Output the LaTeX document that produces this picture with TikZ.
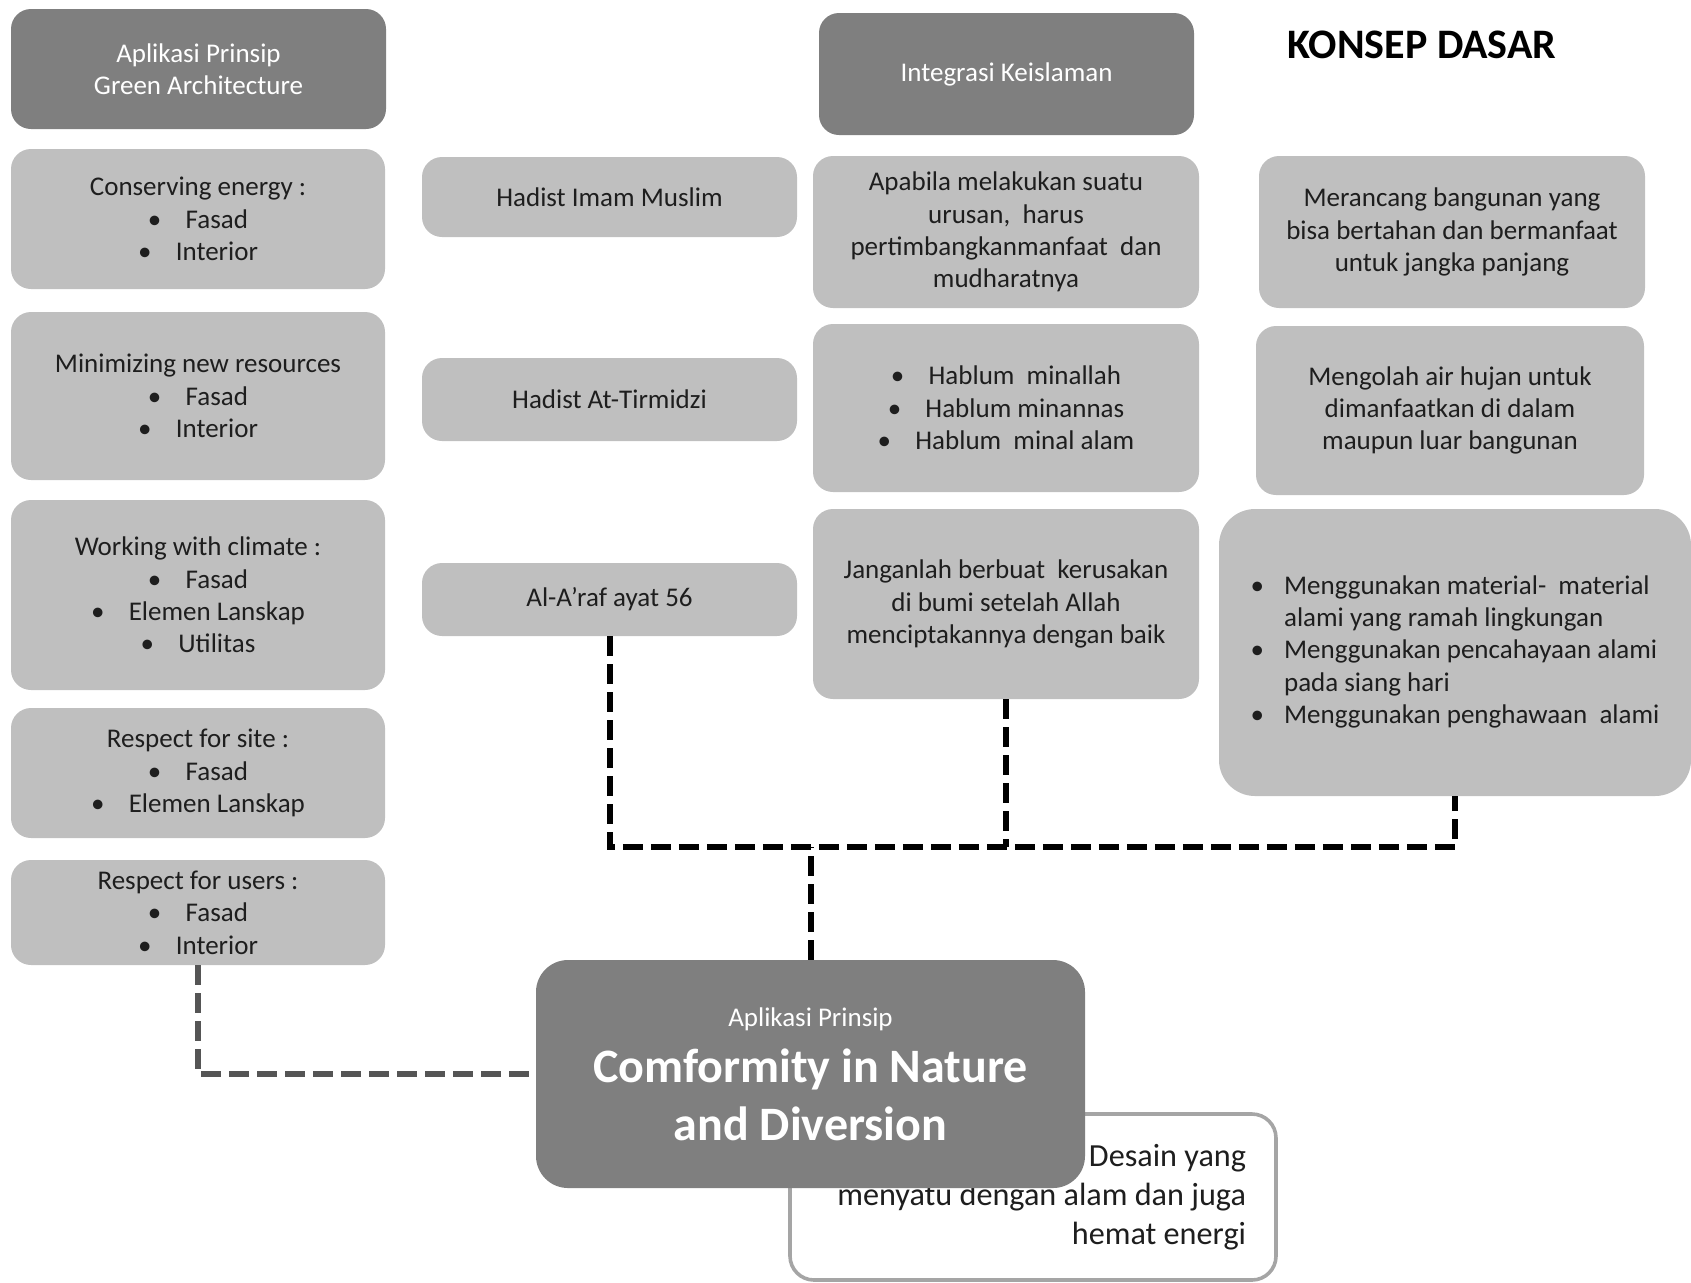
\documentclass[tikz,border=0pt]{standalone}
\usepackage{fontspec}
\setmainfont{Carlito}
\usetikzlibrary{positioning}
\definecolor{headgray}{RGB}{127,127,127}
\definecolor{boxgray}{RGB}{191,191,191}
\definecolor{inkgray}{RGB}{30,30,30}
\definecolor{linegray}{RGB}{85,85,85}
\definecolor{framegray}{RGB}{165,165,165}
\newcommand{\itm}{\textbullet\hspace{0.9em}}

\begin{document}
\begin{tikzpicture}[x=0.5pt, y=-0.5pt,
    headbox/.style={fill=headgray, rounded corners=10pt, text=white, align=center,
      font=\fontsize{13.5}{16.2}\selectfont, inner sep=0pt},
    infobox/.style={fill=boxgray, rounded corners=10pt, text=inkgray, align=center,
      font=\fontsize{13.5}{16.2}\selectfont, inner sep=0pt},
    link/.style={line width=3pt, dash pattern=on 10pt off 4pt},
  ]
    \useasboundingbox (0,0) rectangle (1691,1282);

    % kolom kiri: green architecture
    \node[headbox, minimum width=187.5pt, minimum height=60pt] (ga) at (198.5,69)
      {Aplikasi Prinsip\\Green Architecture};
    \node[infobox, minimum width=187pt, minimum height=70pt] (cons) at (198,219)
      {Conserving energy :\\\itm Fasad\\\itm Interior};
    \node[infobox, minimum width=187pt, minimum height=84pt] (mini) at (198,396)
      {Minimizing new resources\\\itm Fasad\\\itm Interior};
    \node[infobox, minimum width=187pt, minimum height=95pt] (work) at (198,595)
      {Working with climate :\\\itm Fasad\\\itm Elemen Lanskap\\\itm Utilitas};
    \node[infobox, minimum width=187pt, minimum height=65pt] (site) at (198,773)
      {Respect for site :\\\itm Fasad\\\itm Elemen Lanskap};
    \node[infobox, minimum width=187pt, minimum height=52.5pt] (users) at (198,912.5)
      {Respect for users :\\\itm Fasad\\\itm Interior};

    % kolom tengah: dalil
    \node[infobox, minimum width=187.5pt, minimum height=40pt] (him) at (609.5,197)
      {Hadist Imam Muslim};
    \node[infobox, minimum width=187.5pt, minimum height=41.5pt] (tir) at (609.5,399.5)
      {Hadist At-Tirmidzi};
    \node[infobox, minimum width=187.5pt, minimum height=36.5pt] (araf) at (609.5,599.5)
      {Al-A’raf ayat 56};

    % integrasi keislaman
    \node[headbox, minimum width=187.5pt, minimum height=61pt] (integ) at (1006.5,74)
      {Integrasi Keislaman};
    \node[infobox, minimum width=193pt, minimum height=76pt] (apab) at (1006,232)
      {Apabila melakukan suatu\\urusan,\ \ harus\\pertimbangkanmanfaat\ \ dan\\mudharatnya};
    \node[infobox, minimum width=193pt, minimum height=84pt] (hab) at (1006,408)
      {\itm Hablum\ \ minallah\\\itm Hablum minannas\\\itm Hablum\ \ minal alam};
    \node[infobox, minimum width=193pt, minimum height=95pt] (jang) at (1006,604)
      {Janganlah berbuat\ \ kerusakan\\di bumi setelah Allah\\menciptakannya dengan baik};

    % konsep dasar
    \node[font=\fontsize{21}{25}\selectfont\bfseries] (konsep) at (1422,45) {KONSEP DASAR};
    \node[infobox, minimum width=193pt, minimum height=76pt] (meran) at (1452,232)
      {Merancang bangunan yang\\bisa bertahan dan bermanfaat\\untuk jangka panjang};
    \node[infobox, minimum width=194pt, minimum height=84.5pt] (meng) at (1450,410.5)
      {Mengolah air hujan untuk\\dimanfaatkan di dalam\\maupun luar bangunan};
    \node[infobox, rounded corners=18pt, minimum width=236pt, minimum height=143.5pt] (pake) at (1455,652.5)
      {\begin{tabular}{@{}l@{\hspace{10pt}}l@{}}
        \textbullet & Menggunakan material-\ \ material\\
                    & alami yang ramah lingkungan\\
        \textbullet & Menggunakan pencahayaan alami\\
                    & pada siang hari\\
        \textbullet & Menggunakan penghawaan\ \ alami
       \end{tabular}};

    % hasil
    \node[draw=framegray, line width=1.8pt, fill=white, rounded corners=12pt, align=flush right,
          text=inkgray, font=\fontsize{16.1}{19.5}\selectfont, text width=213pt,
          inner xsep=15pt, minimum height=83pt] (desain) at (1033,1197)
      {Desain yang\\menyatu dengan alam dan juga\\hemat energi};
    \node[headbox, rounded corners=16pt, minimum width=274.5pt, minimum height=114pt,
          font=\fontsize{24}{29}\selectfont\bfseries] (central) at (810.5,1074)
      {{\fontsize{13.5}{16}\selectfont\mdseries Aplikasi Prinsip}\\[-1pt]
       Comformity in Nature\\and Diversion};

    % penghubung
    \coordinate (bus) at (0,847);
    \draw[link] (araf.south) -- (araf.south |- bus) -- (pake.south |- bus) -- (pake.south);
    \draw[link] (jang.south) -- (jang.south |- bus);
    \draw[link] (central.north) -- (central.north |- bus);
    \draw[link, linegray] (users.south) |- (central.west);
  \end{tikzpicture}
\end{document}
